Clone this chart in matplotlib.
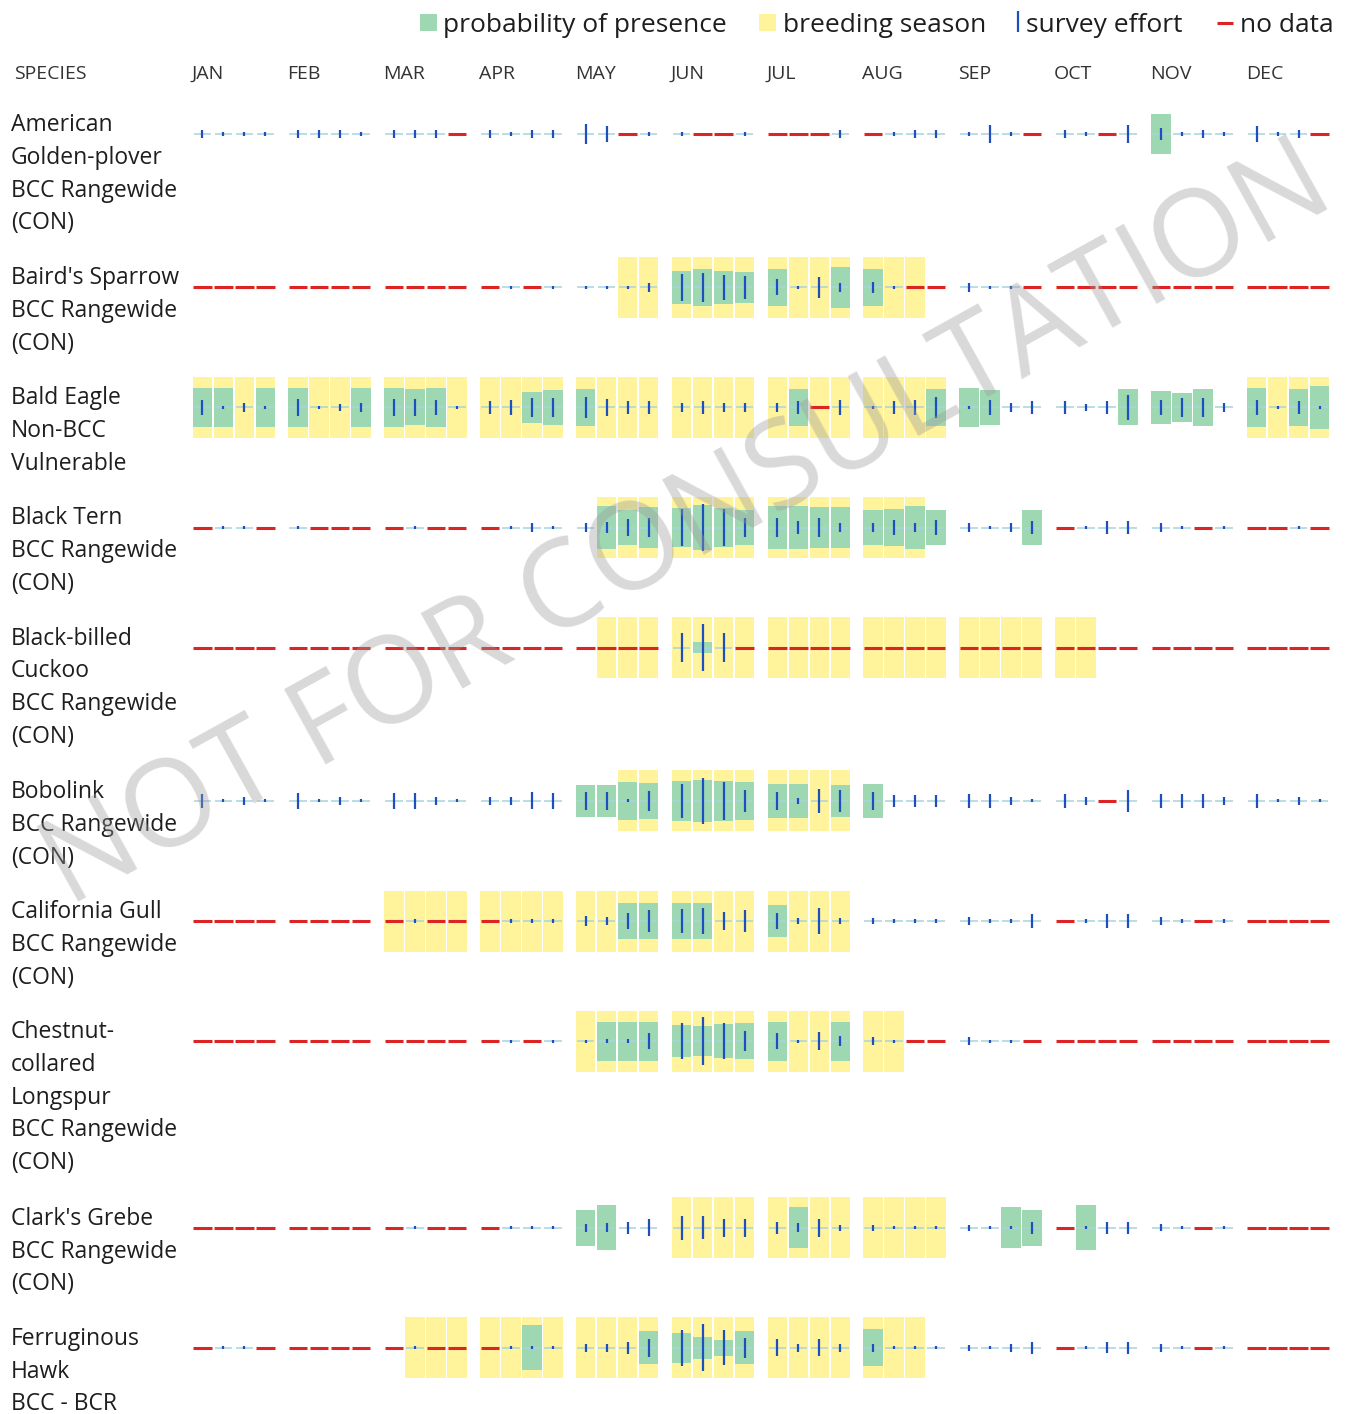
import matplotlib
matplotlib.use("Agg")
import matplotlib.pyplot as plt
from matplotlib.patches import Rectangle

plt.rcParams['font.family'] = ['Open Sans', 'DejaVu Sans']

W, H_FIG = 1349, 1414
months = ["JAN", "FEB", "MAR", "APR", "MAY", "JUN",
          "JUL", "AUG", "SEP", "OCT", "NOV", "DEC"]
N = -1  # no data for that week

# species labels (one entry per printed line)
labels = [
    ["American", "Golden-plover", "BCC Rangewide", "(CON)"],
    ["Baird's Sparrow", "BCC Rangewide", "(CON)"],
    ["Bald Eagle", "Non-BCC", "Vulnerable"],
    ["Black Tern", "BCC Rangewide", "(CON)"],
    ["Black-billed", "Cuckoo", "BCC Rangewide", "(CON)"],
    ["Bobolink", "BCC Rangewide", "(CON)"],
    ["California Gull", "BCC Rangewide", "(CON)"],
    ["Chestnut-", "collared", "Longspur", "BCC Rangewide", "(CON)"],
    ["Clark's Grebe", "BCC Rangewide", "(CON)"],
    ["Ferruginous", "Hawk", "BCC - BCR"],
]

# ---- survey effort per week (fraction of row height, N = no data) ----
plover_effort = [.13, .05, .05, .05,  .13, .13, .13, .05,  .13, .13, .13, N,
                 .13, .05, .13, .13,  .34, .25, N, .05,    .05, N, N, .05,
                 N, N, N, .13,        N, .05, .13, .13,    .05, .28, .05, N,
                 .13, .05, N, .28,    .2, .05, .13, .05,   .25, .05, .13, N]
sparrow_effort = [N, N, N, N,         N, N, N, N,          N, N, N, N,
                  N, .05, N, .05,     .05, .05, .05, .16,  .43, .48, .41, .37,
                  .26, .05, .34, .14, .18, .05, N, N,      .16, .05, .05, N,
                  N, N, N, N,         N, N, N, N,          N, N, N, N]
eagle_effort = [.25, .05, .14, .05,   .28, .05, .12, .16,  .27, .27, .25, .05,
                .2, .25, .3, .3,      .34, .28, .2, .2,    .14, .2, .14, .14,
                .14, .2, N, .25,      .05, .2, .25, .35,   .05, .25, .14, .2,
                .2, .1, .2, .41,      .25, .3, .3, .14,    .25, .05, .2, .05]
tern_effort = [N, .05, .05, N,        .05, N, N, N,        N, .05, N, N,
               N, .05, .15, .05,      .14, .17, .28, .3,   .6, .78, .6, .3,
               .3, .2, .3, .14,       .16, .25, .16, .25,  .14, .05, .14, .22,
               N, .05, .22, .22,      .14, .05, N, .05,    N, N, .05, N]
cuckoo_effort = [N, N, N, N,          N, N, N, N,          N, N, N, N,
                 N, N, N, N,          N, N, N, N,          .49, .76, .48, N,
                 N, N, N, N,          N, N, N, N,          N, N, N, N,
                 N, N, N, N,          N, N, N, N,          N, N, N, N]
bobolink_effort = [.22, .05, .14, .05, .25, .05, .14, .05, .25, .25, .14, .05,
                   .14, .14, .28, .25, .3, .3, .05, .34,   .57, .76, .62, .35,
                   .3, .1, .4, .35,    .3, .19, .2, .2,    .22, .22, .14, .05,
                   .22, .14, N, .35,   .22, .22, .22, .14, .22, .05, .14, .05]
gull_effort = [N, N, N, N,            N, N, N, N,          N, .08, N, N,
               N, .05, .05, .05,      .15, .14, .25, .35,  .4, .43, .3, .35,
               .27, .1, .43, .1,      .1, .05, .05, .05,   .12, .05, .05, .22,
               N, .05, .22, .22,      .12, .05, N, .05,    N, N, N, N]
longspur_effort = [N, N, N, N,        N, N, N, N,          N, N, N, N,
                   N, .05, N, .05,    .05, .07, .07, .25,  .58, .78, .58, .32,
                   .27, .05, .3, .16, .13, .05, N, N,      .14, .05, .05, N,
                   N, N, N, N,        N, N, N, N,          N, N, N, N]
grebe_effort = [N, N, N, N,           N, N, N, N,          N, .05, N, N,
                N, .05, .05, .05,     .14, .15, .2, .28,   .39, .38, .3, .3,
                .2, .15, .3, .1,      .1, .05, .05, .05,   .1, .05, .05, .2,
                N, .05, .2, .2,       .12, .05, N, .05,    N, N, N, N]
hawk_effort = [N, .05, .05, N,        N, N, N, N,          N, .05, N, N,
               N, .05, .05, .05,      .14, .14, .19, .29,  .58, .77, .57, .33,
               .28, .14, .28, .12,    .14, .05, .05, .05,  .1, .05, .12, .2,
               N, .05, .18, .2,       .12, .05, N, .05,    N, N, N, N]

# ---- probability of presence per week (fraction of row height) ----
plover_presence = [0] * 40 + [.65, 0, 0, 0] + [0] * 4
sparrow_presence = [0] * 20 + [.54, .6, .55, .52,  .6, 0, 0, .68,
                               .6, 0, 0, 0] + [0] * 16
eagle_presence = [.64, .64, 0, .64,  .64, 0, 0, .64,  .64, .59, .64, 0,
                  0, 0, .52, .58,    .61, 0, 0, 0,    0, 0, 0, 0,
                  0, .6, 0, 0,       0, 0, 0, .6,     .65, .56, 0, 0,
                  0, 0, 0, .59,      .55, .49, .61, 0, .64, 0, .61, .71]
tern_presence = [0] * 16 + [0, .69, .57, .67,  .63, .75, .63, .58,
                            .69, .69, .66, .66, .58, .61, .72, .58,
                            0, 0, 0, .58] + [0] * 12
cuckoo_presence = [0] * 20 + [0, .19, 0, 0] + [0] * 24
bobolink_presence = [0] * 16 + [.53, .53, .62, .6,  .65, .68, .65, .62,
                                .56, .57, 0, .53,   .57, 0, 0, 0] + [0] * 16
gull_presence = [0] * 16 + [0, 0, .6, .6,  .6, .6, 0, 0,
                            .52, 0, 0, 0] + [0] * 20
longspur_presence = [0] * 16 + [0, .64, .64, .64,  .53, .48, .56, .59,
                                .64, 0, 0, .64] + [0] * 20
grebe_presence = [0] * 16 + [.6, .74, 0, 0,  0, 0, 0, 0,  0, .67, 0, 0,
                             0, 0, 0, 0,     0, 0, .67, .6,  0, .74, 0, 0] + [0] * 8
hawk_presence = [0] * 12 + [0, 0, .74, 0,  0, 0, 0, .54,  .49, .37, .27, .54,
                            0, 0, 0, 0,    .61, 0, 0, 0] + [0] * 16

# ---- breeding season weeks ----
plover_breeding = [0] * 48
sparrow_breeding = [0] * 16 + [0, 0, 1, 1] + [1] * 8 + [1, 1, 1, 0] + [0] * 16
eagle_breeding = [1] * 32 + [0] * 12 + [1] * 4
tern_breeding = [0] * 16 + [0, 1, 1, 1] + [1] * 8 + [1, 1, 1, 0] + [0] * 16
cuckoo_breeding = [0] * 16 + [0, 1, 1, 1] + [1] * 16 + [1, 1, 0, 0] + [0] * 8
bobolink_breeding = [0] * 16 + [0, 0, 1, 1] + [1] * 8 + [0] * 20
gull_breeding = [0] * 8 + [1] * 20 + [0] * 20
longspur_breeding = [0] * 16 + [1] * 12 + [1, 1, 0, 0] + [0] * 16
grebe_breeding = [0] * 20 + [1] * 12 + [0] * 16
hawk_breeding = [0] * 8 + [0, 1, 1, 1] + [1] * 16 + [1, 1, 1, 0] + [0] * 16

rows = [
    (plover_effort, plover_presence, plover_breeding),
    (sparrow_effort, sparrow_presence, sparrow_breeding),
    (eagle_effort, eagle_presence, eagle_breeding),
    (tern_effort, tern_presence, tern_breeding),
    (cuckoo_effort, cuckoo_presence, cuckoo_breeding),
    (bobolink_effort, bobolink_presence, bobolink_breeding),
    (gull_effort, gull_presence, gull_breeding),
    (longspur_effort, longspur_presence, longspur_breeding),
    (grebe_effort, grebe_presence, grebe_breeding),
    (hawk_effort, hawk_presence, hawk_breeding),
]

# colours
YELLOW = "#fff39c"
GREEN = "#9ed8b2"
BLUE = "#1d4fbf"
RED = "#dc2424"
TEAL = "#a9d3dc"
TEXT = "#1e1e1e"

# layout (pixels)
X0, MONTH_W, WEEK_W, BAR_W = 192.5, 95.85, 21.0, 19.5
ROW_H = 61
LINE_H = 32.8
FIRST_ROW = 134


def cell_left(i):
    m, w = divmod(i, 4)
    return X0 + m * MONTH_W + w * WEEK_W


fig = plt.figure(figsize=(W / 100, H_FIG / 100), dpi=100)
ax = fig.add_axes([0, 0, 1, 1])
ax.set_xlim(0, W)
ax.set_ylim(H_FIG, 0)
ax.axis("off")

# legend
ax.add_patch(Rectangle((420, 14), 17, 17, fc=GREEN, ec="none"))
ax.text(443, 32, "probability of presence", fontsize=19, color=TEXT, va="baseline")
ax.add_patch(Rectangle((759, 14), 17, 17, fc=YELLOW, ec="none"))
ax.text(783, 32, "breeding season", fontsize=19, color=TEXT, va="baseline")
ax.vlines(1018, 11, 32, color=BLUE, lw=1.6)
ax.text(1026, 32, "survey effort", fontsize=19, color=TEXT, va="baseline")
ax.hlines(23, 1217, 1233, color=RED, lw=2.2)
ax.text(1240, 32, "no data", fontsize=19, color=TEXT, va="baseline")

# header
ax.text(14, 79, "SPECIES", fontsize=14, color="#333333", va="baseline")
for m, name in enumerate(months):
    ax.text(cell_left(m * 4) - 1, 79, name, fontsize=14, color="#333333", va="baseline")

yc = FIRST_ROW
for lines, (effort, presence, breeding) in zip(labels, rows):
    for k, line in enumerate(lines):
        ax.text(11, yc - 3 + k * LINE_H, line, fontsize=16.5, color=TEXT, va="baseline")

    for i in range(48):
        x = cell_left(i)
        cx = x + BAR_W / 2
        if breeding[i]:
            ax.add_patch(Rectangle((x, yc - ROW_H / 2), BAR_W, ROW_H, fc=YELLOW, ec="none", zorder=1))
        if effort[i] == N:
            ax.hlines(yc, x + 0.5, x + BAR_W - 0.5, color=RED, lw=2.2, zorder=3)
            continue
        p = presence[i]
        if p > 0:
            ax.add_patch(Rectangle((x, yc - p * ROW_H / 2), BAR_W, p * ROW_H, fc=GREEN, ec="none", zorder=2))
        ax.hlines(yc, x + 1, x + BAR_W - 1, color=TEAL, lw=1.1, zorder=3)
        e = effort[i] * ROW_H
        ax.vlines(cx, yc - e / 2, yc + e / 2, color=BLUE, lw=1.6, zorder=4)

    yc += 33.35 * len(lines) + 20

# watermark
ax.text(688, 528, "NOT FOR CONSULTATION", fontsize=87, rotation=29,
        ha="center", va="center", rotation_mode="anchor",
        color="#9a9a9a", alpha=0.38, zorder=10)

fig.savefig("out.png", dpi=100)
